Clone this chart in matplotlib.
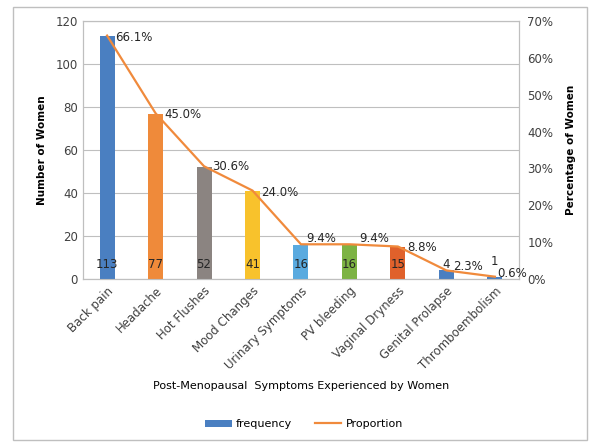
import numpy as np
import matplotlib
matplotlib.use('Agg')
import matplotlib.pyplot as plt
from matplotlib.patches import Rectangle

symptoms = ['Back pain', 'Headache', 'Hot Flushes', 'Mood Changes', 'Urinary Symptoms',
            'PV bleeding', 'Vaginal Dryness', 'Genital Prolapse', 'Thromboembolism']
frequency = [113, 77, 52, 41, 16, 16, 15, 4, 1]
proportion = [66.1, 45.0, 30.6, 24.0, 9.4, 9.4, 8.8, 2.3, 0.6]
pct_labels = ['66.1%', '45.0%', '30.6%', '24.0%', '9.4%', '9.4%', '8.8%', '2.3%', '0.6%']

colors = ['#4a7fc1', '#ef8a3a', '#8b8481', '#f8c22c', '#5aaadf',
          '#7db344', '#e0612b', '#4a7fc1', '#4a7fc1']
# label offsets in points, relative to each line point
pct_off = [(6, -1.5), (6, -1), (6, -0.5), (6, -1.5), (4, 4), (7, 4), (7, -1), (5, 3), (2, 2)]

plt.rcParams['font.family'] = 'DejaVu Sans'
fig = plt.figure(figsize=(5.96, 4.42), dpi=100)
ax = fig.add_axes([0.139, 0.369, 0.732, 0.583])
ax2 = ax.twinx()

x = np.arange(len(symptoms))
ax.bar(x, frequency, width=0.31, color=colors, zorder=3, label='frequency')
for xi, f in zip(x, frequency):
    ypos = 6.5 if f > 2 else f + 7
    ax.text(xi, ypos, str(f), ha='center', va='center', fontsize=8.5, color='#262626', zorder=4)

ax2.plot(x, proportion, color='#f08a3c', lw=1.6, label='Proportion', zorder=5)
for xi, p, lab, off in zip(x, proportion, pct_labels, pct_off):
    ax2.annotate(lab, (xi, p), xytext=off, textcoords='offset points',
                 ha='left', va='center', fontsize=8.5, color='#262626')

ax.set_xlim(-0.5, len(symptoms) - 0.5)
ax.set_ylim(0, 120)
ax.set_yticks(range(0, 121, 20))
ax2.set_ylim(0, 70)
ax2.set_yticks(range(0, 71, 10))
ax2.set_yticklabels([f'{v}%' for v in range(0, 71, 10)])
ax.yaxis.grid(True, color='#bfbfbf', lw=0.8, zorder=0)
ax.set_axisbelow(True)

ax.set_xticks(x)
ax.set_xticklabels(symptoms, rotation=45, ha='right', rotation_mode='anchor', fontsize=8, color='#404040')
for a in (ax, ax2):
    a.tick_params(length=0, labelsize=8.5, colors='#404040')
    for s in a.spines.values():
        s.set_color('#bfbfbf')
        s.set_linewidth(0.8)
ax.tick_params(axis='x', pad=4)
ax2.tick_params(axis='y', pad=6)

ax.set_ylabel('Number of Women', fontsize=7.5, fontweight='bold', labelpad=6)
ax2.set_ylabel('Percentage of Women', fontsize=7.5, fontweight='bold', labelpad=9)
fig.text(0.505, 0.126, 'Post-Menopausal  Symptoms Experienced by Women', ha='center', va='center',
         fontsize=8, color='#000000')

h1, l1 = ax.get_legend_handles_labels()
h2, l2 = ax2.get_legend_handles_labels()
fig.legend(h1 + h2, l1 + l2, loc='center', bbox_to_anchor=(0.51, 0.04), ncol=2, frameon=False,
           fontsize=8, handlelength=2.4, handletextpad=0.4, columnspacing=2.0)

fig.patches.append(Rectangle((0.022, 0.005), 0.963, 0.98, transform=fig.transFigure,
                             fill=False, edgecolor='#bfbfbf', lw=1))
fig.savefig('out.png', dpi=100)
